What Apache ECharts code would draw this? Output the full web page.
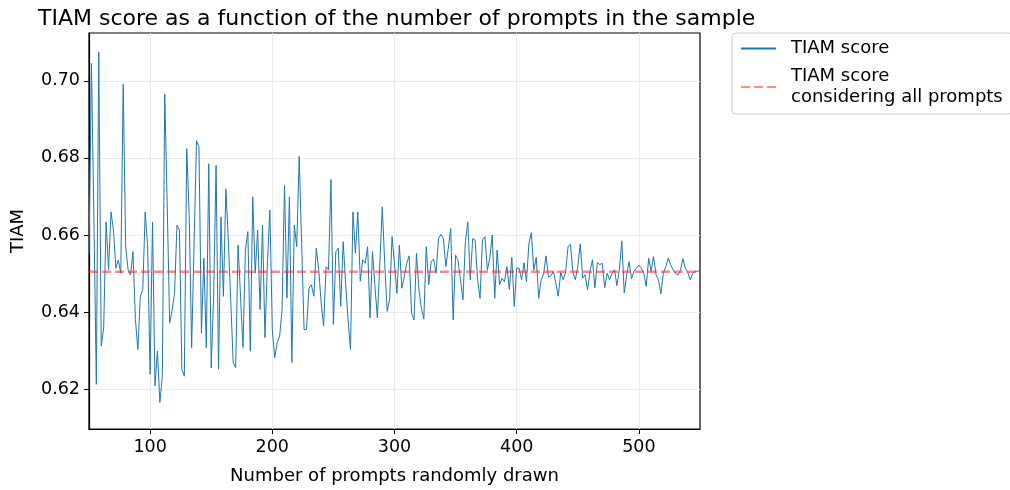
<!DOCTYPE html>
<html>
<head>
<meta charset="utf-8">
<script src="https://cdn.jsdelivr.net/npm/echarts@6/dist/echarts.min.js"></script>
<style>html,body{margin:0;padding:0;background:#fff;}#c{width:1010px;height:490px;}</style>
</head>
<body>
<div id="c"></div>
<script>
const sampleSizes = [50,52,54,56,58,60,62,64,66,68,70,72,74,76,78,80,82,84,86,88,90,92,94,96,98,100,102,104,106,108,110,112,114,116,118,120,122,124,126,128,130,132,134,136,138,140,142,144,146,148,150,152,154,156,158,160,162,164,166,168,170,172,174,176,178,180,182,184,186,188,190,192,194,196,198,200,202,204,206,208,210,212,214,216,218,220,222,224,226,228,230,232,234,236,238,240,242,244,246,248,250,252,254,256,258,260,262,264,266,268,270,272,274,276,278,280,282,284,286,288,290,292,294,296,298,300,302,304,306,308,310,312,314,316,318,320,322,324,326,328,330,332,334,336,338,340,342,344,346,348,350,352,354,356,358,360,362,364,366,368,370,372,374,376,378,380,382,384,386,388,390,392,394,396,398,400,402,404,406,408,410,412,414,416,418,420,422,424,426,428,430,432,434,436,438,440,442,444,446,448,450,452,454,456,458,460,462,464,466,468,470,472,474,476,478,480,482,484,486,488,490,492,494,496,498,500,502,504,506,508,510,512,514,516,518,520,522,524,526,528,530,532,534,536,538,540,542,544,546,548,550];

const tiamScores = [
0.655,0.7045,0.665,0.6213,0.7075,0.6312,0.6359,0.6634,0.6510,0.6660,
0.6613,0.6514,0.6535,0.6501,0.6991,0.6570,0.6510,0.6497,0.6557,0.6381,
0.6303,0.6441,0.6458,0.6660,0.6570,0.6239,0.6634,0.6209,0.6299,0.6166,
0.6234,0.6966,0.668,0.6372,0.6405,0.6449,0.6626,0.6613,0.6252,0.6234,
0.6824,0.665,0.6308,0.658,0.6845,0.6828,0.6346,0.6540,0.6308,0.6785,
0.6256,0.6441,0.6781,0.6252,0.6647,0.6441,0.6720,0.6587,0.643,0.6269,
0.6256,0.6574,0.6441,0.6308,0.6561,0.6609,0.6299,0.6699,0.6501,0.6613,
0.6407,0.6626,0.6334,0.6527,0.6665,0.6355,0.6282,0.6321,0.6338,0.6407,
0.6729,0.6437,0.6699,0.6269,0.6626,0.6570,0.6804,0.6579,0.6355,0.6355,
0.6462,0.6471,0.6441,0.6566,0.6510,0.6424,0.6364,0.6518,0.6510,0.6744,
0.6368,0.6557,0.6566,0.6415,0.6583,0.6475,0.6381,0.6303,0.6660,0.6553,
0.6660,0.6480,0.6536,0.6527,0.6570,0.6385,0.6557,0.6467,0.6385,0.6527,
0.6673,0.6527,0.6402,0.6432,0.6596,0.6525,0.6449,0.6574,0.6462,0.6492,
0.6527,0.6546,0.6397,0.6380,0.6553,0.6458,0.6410,0.6382,0.6570,0.6471,
0.6531,0.6538,0.6501,0.6591,0.6602,0.6591,0.6518,0.6566,0.6617,0.6380,
0.6548,0.6535,0.6484,0.6432,0.6583,0.6634,0.6484,0.6591,0.6587,0.6484,
0.6436,0.6587,0.6596,0.6509,0.6540,0.6600,0.6436,0.6561,0.6471,0.6488,
0.6479,0.6518,0.6459,0.6542,0.6415,0.6514,0.6514,0.6484,0.6528,0.6479,
0.6578,0.6606,0.6509,0.6542,0.6436,0.6484,0.6499,0.6546,0.6492,0.6494,
0.6506,0.6476,0.6441,0.6503,0.6484,0.6503,0.6570,0.6576,0.6503,0.6484,
0.6518,0.6577,0.6488,0.6497,0.6458,0.6506,0.6536,0.6463,0.6529,0.6523,
0.6527,0.6463,0.6501,0.6484,0.6501,0.6510,0.6469,0.6510,0.6585,0.6450,
0.6497,0.6531,0.6487,0.6506,0.6514,0.6522,0.6514,0.6501,0.6467,0.6540,
0.6506,0.6544,0.6497,0.6484,0.6448,0.6501,0.6518,0.6540,0.6523,0.6510,
0.6500,0.6496,0.6508,0.6539,0.6514,0.6503,0.6484,0.6500,0.6506,0.6506,
0.6508];

const overallScore = 0.6505;
const xTicks = [100, 200, 300, 400, 500];
const yTicks = [0.62, 0.64, 0.66, 0.68, 0.70];
const seriesNames = ['TIAM score', 'TIAM score\nconsidering all prompts'];

const FONT = 'DejaVu Sans';
const chart = echarts.init(document.getElementById('c'), null, {renderer: 'canvas'});

const mainData = sampleSizes.map((x, i) => [x, tiamScores[i]]);
const refData = [[sampleSizes[0], overallScore], [sampleSizes[sampleSizes.length - 1], overallScore]];

chart.setOption({
  animation: false,
  backgroundColor: '#ffffff',
  title: {
    text: 'TIAM score as a function of the number of prompts in the sample',
    left: 33, top: 3,
    textStyle: {fontFamily: FONT, fontSize: 22, fontWeight: 'normal', color: '#000'}
  },
  grid: {left: 89, top: 33, width: 611, height: 397, show: true, borderColor: '#000', borderWidth: 1.2, backgroundColor: 'transparent'},
  legend: {
    orient: 'vertical', left: 732, top: 33,
    padding: [5, 10, 6, 8],
    itemGap: 7,
    itemWidth: 35, itemHeight: 10,
    borderColor: '#cccccc', borderWidth: 1, borderRadius: 4,
    itemStyle: {opacity: 0},
    textStyle: {fontFamily: FONT, fontSize: 18, color: '#000', padding: [0, 0, 0, 10], lineHeight: 21},
    data: seriesNames
  },
  xAxis: {
    type: 'value', min: 50, max: 550,
    name: 'Number of prompts randomly drawn', nameLocation: 'middle', nameGap: 38,
    nameTextStyle: {fontFamily: FONT, fontSize: 18, color: '#000'},
    axisLine: {show: true, lineStyle: {color: '#000', width: 1.2}},
    axisTick: {show: true, inside: false, length: 5, lineStyle: {color: '#000', width: 1}, customValues: xTicks},
    axisLabel: {fontFamily: FONT, fontSize: 17.5, color: '#000', margin: 9, customValues: xTicks},
    splitLine: {show: true, lineStyle: {color: '#ebebeb', width: 1}}
  },
  yAxis: {
    type: 'value', min: 0.6097, max: 0.7124,
    name: 'TIAM', nameLocation: 'middle', nameGap: 62, nameRotate: 90,
    nameTextStyle: {fontFamily: FONT, fontSize: 18, color: '#000'},
    axisLine: {show: true, lineStyle: {color: '#000', width: 1.2}},
    axisTick: {show: true, inside: false, length: 5, lineStyle: {color: '#000', width: 1}, customValues: yTicks},
    axisLabel: {fontFamily: FONT, fontSize: 17.5, color: '#000', margin: 9, customValues: yTicks,
      formatter: v => v.toFixed(2)},
    splitLine: {show: true, lineStyle: {color: '#ebebeb', width: 1}}
  },
  series: [
    {
      name: seriesNames[0], type: 'line', data: mainData,
      showSymbol: false, symbol: 'none',
      lineStyle: {color: '#1f77b4', width: 1},
      itemStyle: {color: '#1f77b4'},
      z: 2
    },
    {
      name: seriesNames[1], type: 'line', data: refData,
      showSymbol: false, symbol: 'none',
      lineStyle: {color: 'rgba(255,40,40,0.55)', width: 2.5, type: [9, 4]},
      itemStyle: {color: 'rgba(255,40,40,0.55)'},
      z: 3
    }
  ]
});
</script>
</body>
</html>
